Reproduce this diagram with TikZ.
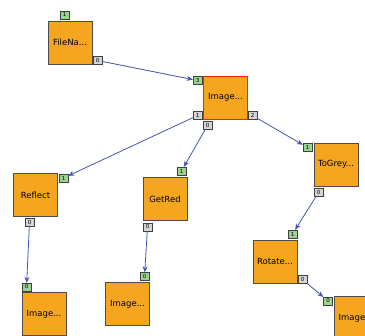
\documentclass[tikz,border=0pt]{standalone}
\usepackage{fontspec}
\setsansfont{DejaVu Sans}
\usetikzlibrary{arrows.meta,positioning}
\definecolor{boxorange}{HTML}{F5A51E}
\definecolor{portgreen}{HTML}{98D48E}
\definecolor{portgrey}{HTML}{D4D4D4}
\definecolor{wireblue}{HTML}{4454B8}
\begin{document}
\begin{tikzpicture}[x=1pt,y=-1pt,
        block/.style={draw=gray!60!black,fill=boxorange,minimum width=44pt,minimum height=43pt,inner sep=0pt,font=\sffamily\fontsize{8.5}{10}\selectfont},% operator boxes
        inport/.style={draw=gray!50!black,fill=portgreen,minimum width=9pt,minimum height=8pt,inner sep=0pt,font=\sffamily\fontsize{5.5}{6}\selectfont},
        outport/.style={inport,fill=portgrey},
        wire/.style={draw=wireblue,thick,-{Stealth[length=6pt,width=5pt]}}]
\useasboundingbox (0,0) rectangle (365,336);
\begin{scope}
\clip (0,0) rectangle (365,336);
% blocks
\node[block] (file) at (70,42.5) {FileNa...};
\node[block,draw=red!75!orange,thick] (img) at (225.5,97.5) {Image...};
\node[block] (reflect) at (35.5,195) {Reflect};
\node[block] (getred) at (165,199) {GetRed};
\node[block] (togrey) at (336,164.5) {ToGrey...};
\node[block] (rotate) at (275,261.5) {Rotate...};
\node[block] (imgA) at (44,314) {Image...};
\node[block] (imgB) at (127.5,304) {Image...};
\node[block] (imgC) at (356,318) {Image...};
% ports
\node[inport] (file-in) at (64.5,15) {1};
\node[outport] (file-out) at (97.5,60.5) {0};
\node[inport] (img-in) at (197.5,80.5) {3};
\node[outport] (img-out1) at (197.5,115.5) {1};
\node[outport] (img-out0) at (207.5,125.5) {0};
\node[outport] (img-out2) at (252.5,115.5) {2};
\node[inport] (reflect-in) at (63.5,178) {1};
\node[outport] (reflect-out) at (29.5,222.5) {0};
\node[inport] (getred-in) at (181.5,171) {1};
\node[outport] (getred-out) at (147.5,227) {0};
\node[inport] (togrey-in) at (307.5,147.5) {1};
\node[outport] (togrey-out) at (318.5,192.5) {0};
\node[inport] (rotate-in) at (292.5,234) {1};
\node[outport] (rotate-out) at (302.5,279.5) {0};
\node[inport] (imgA-in) at (26.5,287) {0};
\node[inport] (imgB-in) at (144.5,276.5) {0};
\node[inport] (imgC-in) at (328,301) {0};
% wires
\foreach \a/\b in {file-out/img-in,img-out1/reflect-in,img-out0/getred-in,img-out2/togrey-in,%
        togrey-out/rotate-in,reflect-out/imgA-in,getred-out/imgB-in,rotate-out/imgC-in}{
\draw[wire] (\a) -- (\b);
}
\end{scope}
\end{tikzpicture}
\end{document}
